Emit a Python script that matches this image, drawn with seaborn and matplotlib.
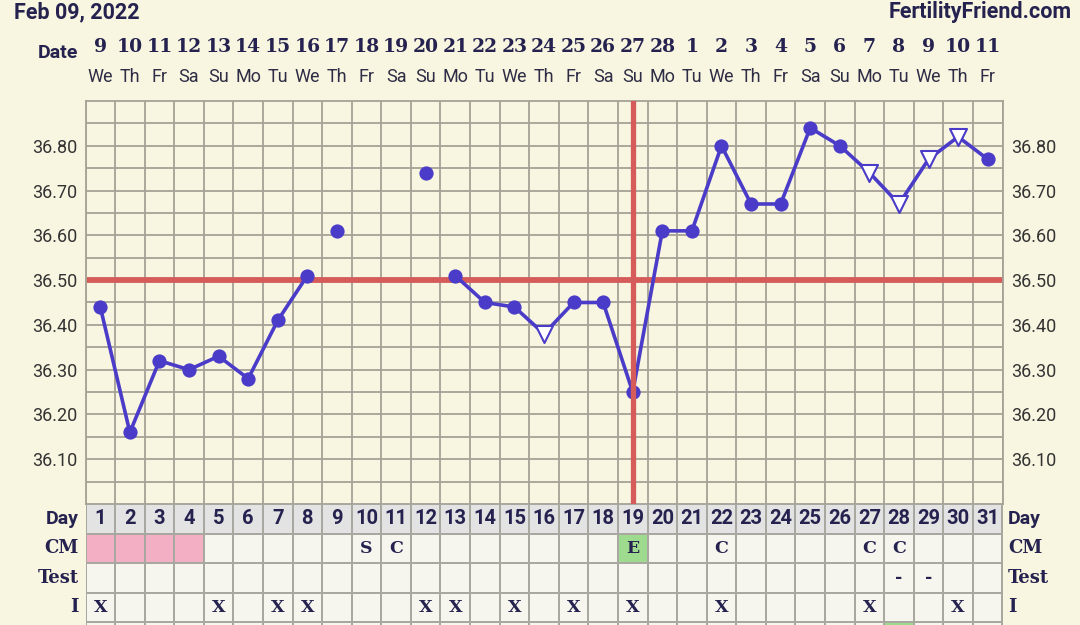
import numpy as np
import pandas as pd
import matplotlib
matplotlib.use('Agg')
import matplotlib.pyplot as plt
import matplotlib.transforms as mtransforms
from matplotlib.colors import ListedColormap
import seaborn as sns

# ---- chart values ----
days = list(range(1, 32))
date_nums = [9, 10, 11, 12, 13, 14, 15, 16, 17, 18, 19, 20, 21, 22, 23, 24, 25, 26, 27, 28,
             1, 2, 3, 4, 5, 6, 7, 8, 9, 10, 11]
weekdays = ['We', 'Th', 'Fr', 'Sa', 'Su', 'Mo', 'Tu', 'We', 'Th', 'Fr', 'Sa', 'Su', 'Mo', 'Tu',
            'We', 'Th', 'Fr', 'Sa', 'Su', 'Mo', 'Tu', 'We', 'Th', 'Fr', 'Sa', 'Su', 'Mo', 'Tu',
            'We', 'Th', 'Fr']
temps = [36.44, 36.16, 36.32, 36.30, 36.33, 36.28, 36.41, 36.51, 36.61, None, None, 36.74,
         36.51, 36.45, 36.44, 36.38, 36.45, 36.45, 36.25, 36.61, 36.61, 36.80, 36.67, 36.67,
         36.84, 36.80, 36.74, 36.67, 36.77, 36.82, 36.77]
# which connected stretch each day belongs to (None = not joined by the line)
segments = [1] * 8 + [None] * 4 + [2] * 19
open_days = [16, 27, 28, 29, 30]
coverline = 36.50
ovulation_day = 19
ytick_vals = [36.10, 36.20, 36.30, 36.40, 36.50, 36.60, 36.70, 36.80]
ygrid_minor = [36.05, 36.15, 36.25, 36.35, 36.45, 36.55, 36.65, 36.75, 36.85]

row_names = ['Day', 'CM', 'Test', 'I']
cm_marks = {10: 'S', 11: 'C', 19: 'E', 22: 'C', 27: 'C', 28: 'C'}
cm_pink_days = [1, 2, 3, 4]
cm_green_days = [19]
test_marks = {28: '-', 29: '-'}
i_days = [1, 5, 7, 8, 12, 13, 15, 17, 19, 22, 27, 30]
extra_green_days = [28]

# ---- colours ----
cream = '#F8F5E0'
gridc = '#A5A396'
navy = '#25224F'
blue = '#4A3CC8'
red = '#D65C5C'

sns.set_theme(style='white')
plt.rcParams['font.family'] = ['Roboto', 'DejaVu Sans']

fig = plt.figure(figsize=(10.8, 6.25), dpi=100, facecolor=cream)
L, R = 85.5 / 1080, 1002.5 / 1080
ax = fig.add_axes([L, 1 - 504 / 625, R - L, (504 - 101) / 625])
ax.set_facecolor(cream)

df = pd.DataFrame({'day': days, 'temp': temps, 'seg': segments})
df['temp'] = df['temp'].astype(float)
df['open'] = df['day'].isin(open_days)

# temperature line, markers
sns.lineplot(data=df.dropna(subset=['seg', 'temp']), x='day', y='temp', units='seg',
             estimator=None, color=blue, lw=2.6, ax=ax, zorder=3)
sns.scatterplot(data=df[~df['open']], x='day', y='temp', color=blue, s=105,
                linewidth=0, ax=ax, zorder=4)
sns.scatterplot(data=df[df['open']], x='day', y='temp', marker='v', color='white',
                edgecolor=blue, linewidth=1.5, s=150, ax=ax, zorder=4)

ax.axhline(coverline, color=red, lw=4.2, zorder=2)
ax.axvline(ovulation_day, color=red, lw=3.8, zorder=5)

ax.set_xlim(0.5, 31.5)
ax.set_ylim(36.0, 36.9)
ax.set_xticks(np.arange(0.5, 32, 1))
ax.set_xticklabels([])
ax.set_yticks(ytick_vals, labels=[f'{v:.2f}' for v in ytick_vals])
ax.set_yticks(ygrid_minor, minor=True)
ax.grid(True, which='both', color=gridc, lw=1.3)
ax.tick_params(which='both', length=0, labelleft=True, labelright=True,
               labelsize=13, labelcolor='#333333', pad=6)
ax.set_xlabel('')
ax.set_ylabel('')
for s in ax.spines.values():
    s.set_color(gridc)
    s.set_linewidth(1.3)

# header: dates and weekdays
trans = mtransforms.blended_transform_factory(ax.transData, fig.transFigure)
for d, n, w in zip(days, date_nums, weekdays):
    ax.text(d, 1 - 47 / 625, str(n), transform=trans, ha='center', va='center',
            family='DejaVu Serif', weight='bold', fontsize=13.5, color=navy)
    ax.text(d, 1 - 77 / 625, w, transform=trans, ha='center', va='center',
            fontsize=13, color='#2E2D45')
fig.text(78 / 1080, 1 - 53 / 625, 'Date', ha='right', va='center', weight='bold',
         fontsize=14, color=navy)
fig.text(14 / 1080, 1 - 12 / 625, 'Feb 09, 2022', ha='left', va='center', weight='bold',
         fontsize=15.5, color=navy)
fig.text(1072 / 1080, 1 - 12 / 625, 'FertilityFriend.com', ha='right', va='center',
         weight='bold', fontsize=15.5, color=navy)

# ---- bottom table as a heatmap ----
row_h = 29.5
n_rows = 5
tb = fig.add_axes([L, 1 - (504 + n_rows * row_h) / 625, R - L, n_rows * row_h / 625])
codes = np.ones((n_rows, 31))
codes[0, :] = 0
for d in cm_pink_days:
    codes[1, d - 1] = 2
for d in cm_green_days:
    codes[1, d - 1] = 3
for d in extra_green_days:
    codes[4, d - 1] = 3
annot = np.full((n_rows, 31), '', dtype=object)
annot[0, :] = [str(d) for d in days]
for d, m in cm_marks.items():
    annot[1, d - 1] = m
for d, m in test_marks.items():
    annot[2, d - 1] = m
for d in i_days:
    annot[3, d - 1] = 'X'

cmap = ListedColormap(['#E3E3E3', '#F6F6EF', '#F3B0C4', '#9FDB8E'])
sns.heatmap(codes, cmap=cmap, vmin=-0.5, vmax=3.5, annot=annot, fmt='', cbar=False,
            linewidths=1.3, linecolor='#A9A8A0', xticklabels=False, yticklabels=False,
            annot_kws={'color': navy, 'fontsize': 12.5, 'fontweight': 'bold',
                       'family': 'DejaVu Serif'}, ax=tb)
for t in tb.texts:
    if t.get_position()[1] < 1:
        t.set_family('Roboto')
        t.set_fontsize(14.5)

for i, name in enumerate(row_names):
    yc = 1 - (504 + row_h * (i + 0.5)) / 625
    if name == 'Day':
        kw = dict(weight='bold', fontsize=14)
    else:
        kw = dict(family='DejaVu Serif', weight='bold', fontsize=13)
    fig.text(79 / 1080, yc, name, ha='right', va='center', color=navy, **kw)
    fig.text(1008 / 1080, yc, name, ha='left', va='center', color=navy, **kw)

fig.savefig('out.png', dpi=100, facecolor=cream)
